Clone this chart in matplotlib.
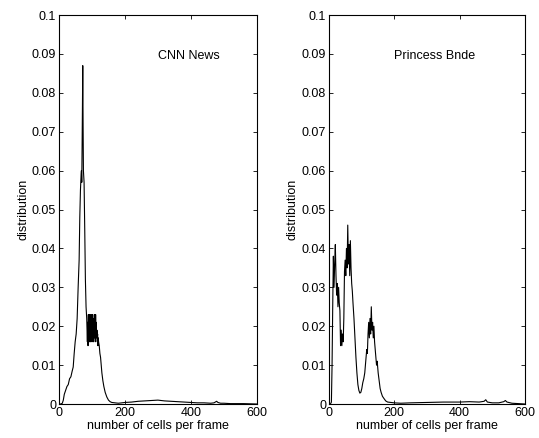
import matplotlib
matplotlib.use("Agg")
import matplotlib.pyplot as plt

plt.rcParams["font.family"] = ["Liberation Sans", "DejaVu Sans"]
plt.rcParams["font.size"] = 9

# CNN News: distribution of number of cells per frame
cnn_x = [0, 5, 10, 13, 16, 20, 24, 28, 32, 36, 40, 43, 46, 49, 52, 55, 58, 61, 63, 65,
         67, 68, 69, 70, 71, 72, 73, 74, 76, 78, 80, 82, 84, 86, 87, 88, 89, 90, 91, 92,
         93, 94, 95, 96, 97, 98, 99, 100, 101, 102, 103, 104, 105, 106, 107, 108, 109, 110,
         111, 112, 113, 114, 115, 116, 117, 118, 119, 120, 122, 124, 126, 128, 130, 133,
         136, 140, 145, 150, 155, 160, 170, 180, 190, 200, 220, 240, 260, 280, 300, 320,
         340, 360, 380, 400, 420, 440, 460, 470, 478, 482, 490, 500, 520, 540, 560, 580, 600]
cnn_y = [0, 0, 0.0002, 0.001, 0.0025, 0.0035, 0.0045, 0.005, 0.0065, 0.007, 0.0085, 0.0095,
         0.013, 0.016, 0.018, 0.022, 0.03, 0.037, 0.048, 0.055,
         0.059, 0.06, 0.057, 0.066, 0.076, 0.087, 0.072, 0.06, 0.057, 0.045, 0.032, 0.025,
         0.022, 0.016, 0.021, 0.015, 0.023, 0.017, 0.021, 0.016,
         0.023, 0.017, 0.02, 0.016, 0.023, 0.018, 0.021, 0.016, 0.023, 0.017, 0.02, 0.016,
         0.022, 0.018, 0.023, 0.017, 0.02, 0.016,
         0.023, 0.018, 0.021, 0.017, 0.019, 0.016, 0.018, 0.015, 0.017, 0.016, 0.015, 0.013,
         0.012, 0.01, 0.008, 0.006,
         0.0045, 0.003, 0.0018, 0.001, 0.0006, 0.0004, 0.0003, 0.0002, 0.0003, 0.0004,
         0.0005, 0.0007, 0.0008, 0.0009, 0.001, 0.0008,
         0.0007, 0.0006, 0.0005, 0.0004, 0.0003, 0.0003, 0.0002, 0.0003, 0.0007, 0.0004,
         0.0002, 0.0002, 0.0001, 0.0001, 0.0001, 0.00005, 0]

# Princess Bride
pb_x = [0, 5, 8, 10, 12, 14, 16, 18, 20, 22, 24, 26, 28, 30, 32, 34, 36, 38, 40, 42, 44,
        46, 48, 50, 52, 54, 56, 58, 60, 62, 64, 66, 68, 70, 72, 74, 77, 80, 83, 86, 89, 92,
        95, 98, 101, 104, 107, 110, 113, 116, 118, 120, 122, 124, 126, 128, 130, 132, 134,
        136, 138, 140, 142, 144, 146, 148, 151, 154, 157, 160, 164, 168, 174, 180, 190, 200,
        220, 250, 300, 350, 400, 430, 460, 475, 480, 485, 500, 520, 535, 540, 545, 560, 580, 600]
pb_y = [0, 0, 0.0005, 0.01, 0.025, 0.038, 0.03, 0.036, 0.041, 0.033, 0.028, 0.031, 0.025,
        0.03, 0.026, 0.024, 0.015, 0.019, 0.015, 0.018, 0.016,
        0.022, 0.034, 0.037, 0.033, 0.04, 0.035, 0.046, 0.036, 0.041, 0.033, 0.042, 0.035,
        0.031, 0.029, 0.026, 0.022, 0.017, 0.012, 0.008, 0.005, 0.0035,
        0.0028, 0.003, 0.004, 0.0055, 0.0065, 0.008, 0.011, 0.014, 0.013, 0.018, 0.021,
        0.017, 0.022, 0.018, 0.025, 0.019, 0.021,
        0.017, 0.02, 0.016, 0.014, 0.012, 0.01, 0.011, 0.008, 0.006, 0.004, 0.003, 0.002,
        0.0015, 0.0008, 0.0005, 0.0004, 0.0003,
        0.0002, 0.0003, 0.0004, 0.0005, 0.0005, 0.0006, 0.0005, 0.0007, 0.0011, 0.0005,
        0.0003, 0.0003, 0.0006, 0.0009, 0.0005, 0.0002, 0.0001, 0]

panels = [
    (cnn_x, cnn_y, "CNN News", 393, [0.1095, 0.0776, 0.367, 0.888]),
    (pb_x, pb_y, "Princess Bnde", 324, [0.610, 0.0776, 0.364, 0.888]),
]

fig = plt.figure(figsize=(5.39, 4.38), dpi=100)
for xs, ys, name, text_x, rect in panels:
    ax = fig.add_axes(rect)
    ax.plot(xs, ys, color="black", linewidth=0.8)
    ax.set_xlim(0, 600)
    ax.set_ylim(0, 0.1)
    ax.set_xticks([0, 200, 400, 600])
    ax.set_yticks([i / 100 for i in range(11)])
    ax.set_yticklabels(["0"] + [f"0.{i:02d}" for i in range(1, 10)] + ["0.1"])
    ax.tick_params(direction="in", top=True, right=True, length=3, width=0.6, pad=2)
    for sp in ax.spines.values():
        sp.set_linewidth(0.8)
    ax.text(text_x, 0.0895, name, ha="center", va="center")
    ax.set_xlabel("number of cells per frame", labelpad=1)
    ax.set_ylabel("distribution", labelpad=2)

fig.savefig("out.png", dpi=100)
